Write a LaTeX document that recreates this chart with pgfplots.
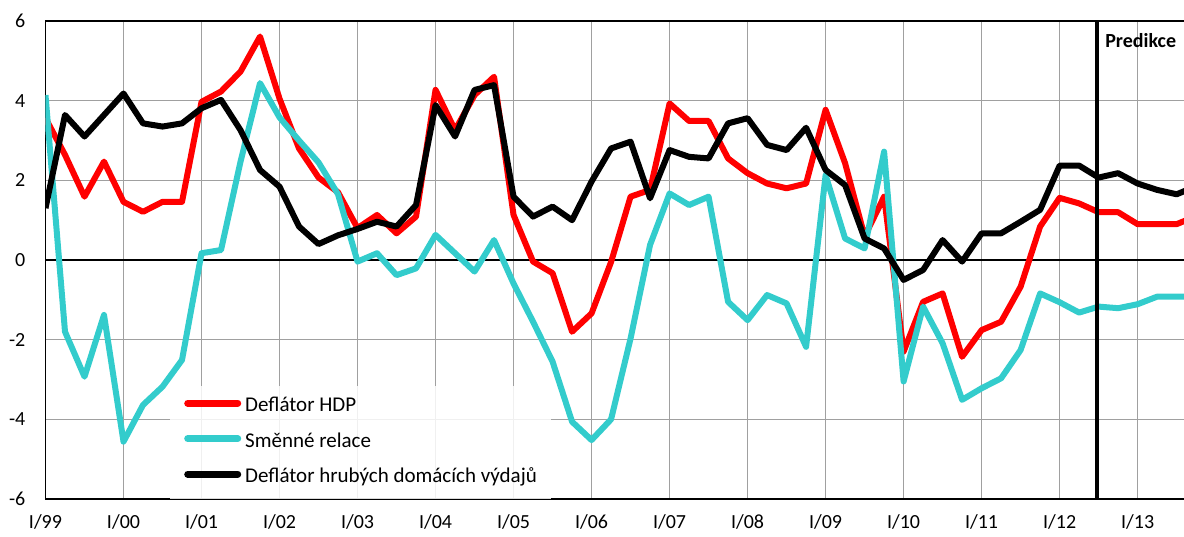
\documentclass[border=0pt]{standalone}
\usepackage{pgfplots}
\pgfplotsset{compat=1.18}
\usepackage{fontspec}
\setmainfont{Carlito}

\definecolor{hdp}{RGB}{255,0,0}
\definecolor{smen}{RGB}{51,204,204}
\definecolor{gridc}{RGB}{160,160,160}

% quarterly data, I/99 = 0
\pgfplotstableread{
q hdp smen hdv
0 3.56 4.14 1.30
1 2.64 -1.80 3.64
2 1.59 -2.93 3.10
3 2.47 -1.38 3.64
4 1.46 -4.56 4.18
5 1.21 -3.64 3.43
6 1.46 -3.18 3.35
7 1.46 -2.51 3.43
8 3.97 0.17 3.81
9 4.23 0.25 4.02
10 4.73 2.47 3.26
11 5.61 4.44 2.26
12 4.05 3.58 1.84
13 2.80 3.00 0.84
14 2.07 2.45 0.40
15 1.70 1.65 0.62
16 0.80 -0.04 0.78
17 1.13 0.17 0.96
18 0.67 -0.38 0.84
19 1.09 -0.21 1.38
20 4.27 0.63 3.89
21 3.26 0.17 3.10
22 4.14 -0.29 4.27
23 4.60 0.50 4.39
24 1.13 -0.59 1.59
25 -0.04 -1.55 1.09
26 -0.33 -2.55 1.34
27 -1.80 -4.06 1.00
28 -1.34 -4.52 1.97
29 -0.05 -4.00 2.80
30 1.59 -1.97 2.97
31 1.76 0.38 1.55
32 3.93 1.67 2.76
33 3.49 1.38 2.59
34 3.49 1.59 2.55
35 2.55 -1.05 3.43
36 2.18 -1.51 3.56
37 1.92 -0.88 2.89
38 1.80 -1.09 2.76
39 1.92 -2.18 3.32
40 3.77 2.13 2.26
41 2.43 0.54 1.88
42 0.59 0.29 0.54
43 1.59 2.72 0.29
44 -2.30 -3.05 -0.50
45 -1.05 -1.17 -0.25
46 -0.84 -2.09 0.50
47 -2.43 -3.51 -0.04
48 -1.76 -3.22 0.67
49 -1.55 -2.97 0.67
50 -0.67 -2.26 0.96
51 0.84 -0.84 1.26
52 1.56 -1.06 2.37
53 1.42 -1.32 2.37
54 1.20 -1.17 2.07
55 1.20 -1.21 2.18
56 0.90 -1.11 1.92
57 0.90 -0.92 1.76
58 0.90 -0.92 1.65
59 1.10 -0.92 1.85
}\data

\begin{document}
\begin{tikzpicture}
\begin{axis}[
    scale only axis,
    width=1138.5pt, height=478pt,
    at={(0pt,0pt)}, anchor=south west,
    xmin=0, xmax=58.38,
    ymin=-6, ymax=6,
    axis x line*=box, axis y line*=left,
    axis line style={-, black, line width=1.5pt},
    xtick={0,4,...,56},
    xticklabels={I/99,I/00,I/01,I/02,I/03,I/04,I/05,I/06,I/07,I/08,I/09,I/10,I/11,I/12,I/13},
    ytick={-6,-4,...,6},
    yticklabels={-6,-4,-2,0,2,4,6},
    major tick length=0pt,
    grid=major,
    major grid style={draw=gridc, line width=1.5pt},
    tick label style={font=\fontsize{20}{24}\selectfont},
    xticklabel style={anchor=north, inner sep=0pt, yshift=-15pt},
    yticklabel style={anchor=east, inner sep=0pt, xshift=-20pt},
    legend cell align=left,
    legend style={at={(axis cs:6.385,-3.148)}, anchor=north west,
        fill=white, fill opacity=0.85, text opacity=1, draw=none,
        inner xsep=14pt, inner ysep=11pt,
        font=\fontsize{21}{25}\selectfont, row sep=15.5pt,
        nodes={inner sep=0pt, text height=15pt, text depth=5pt}},
    /tikz/every odd column/.append style={column sep=4pt},
    legend image code/.code={
        \path[draw=none] (0pt,0pt) -- (57pt,0pt);
        \draw[#1, line width=7pt, line cap=round] (3.5pt,3.5pt) -- (53.5pt,3.5pt);
    },
]
\addplot[black, line width=1.2pt, forget plot] coordinates {(0,0) (60,0)};
\addplot[hdp, line width=6pt, line join=round] table[x=q, y=hdp] {\data};
\addlegendentry{Deflátor HDP}
\addplot[smen, line width=6pt, line join=round] table[x=q, y=smen] {\data};
\addlegendentry{Směnné relace}
\addplot[black, line width=6pt, line join=round] table[x=q, y=hdv] {\data};
\addlegendentry{Deflátor hrubých domácích výdajů}
\addplot[black, line width=4pt, forget plot] coordinates {(53.9,-6) (53.9,6)};
\node[anchor=base west, inner sep=0pt, font=\fontsize{20}{24}\selectfont\bfseries]
    at (axis cs:54.33,5.34) {Predikce};
\end{axis}
\pgfresetboundingbox
\path[use as bounding box] (-45.5pt,-37pt) rectangle (1138.5pt,499pt);
\end{tikzpicture}
\end{document}
